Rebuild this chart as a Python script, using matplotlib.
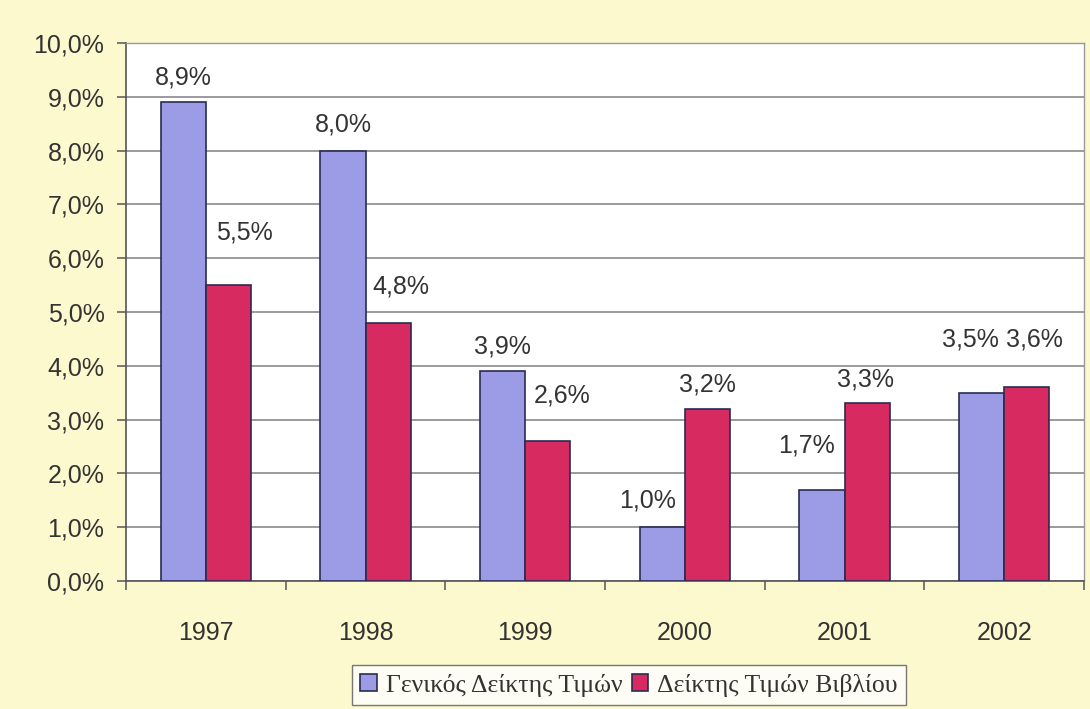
import numpy as np
import matplotlib.pyplot as plt

plt.rcParams["font.family"] = ["Liberation Sans", "DejaVu Sans"]

years = ["1997", "1998", "1999", "2000", "2001", "2002"]
general_cpi = [8.9, 8.0, 3.9, 1.0, 1.7, 3.5]
book_cpi = [5.5, 4.8, 2.6, 3.2, 3.3, 3.6]
series_names = ["Γενικός Δείκτης Τιμών", "Δείκτης Τιμών Βιβλίου"]

# label nudges in pixels (dx, dy above bar top), as placed in the original
general_offsets = [(0, 25), (0, 26), (0, 25), (-15, 27), (-15, 44), (-11, 53)]
book_offsets = [(16, 53), (13, 36), (14, 46), (0, 24), (-2, 24), (8, 48)]

bg = "#fcf9cf"
blue = "#9c9ce6"
red = "#d62a60"
edge = "#2b2b52"
txt = "#333333"

fig = plt.figure(figsize=(10.9, 7.09), dpi=100)
fig.patch.set_facecolor(bg)
ax = fig.add_axes([0.1156, 0.1805, 0.8789, 0.7589])
ax.set_facecolor("white")

x = np.arange(len(years))
w = 0.282
b1 = ax.bar(x - w / 2, general_cpi, w, color=blue, edgecolor=edge, linewidth=1.2,
            label=series_names[0], zorder=3)
b2 = ax.bar(x + w / 2, book_cpi, w, color=red, edgecolor=edge, linewidth=1.2,
            label=series_names[1], zorder=3)

for bars, vals, offs in [(b1, general_cpi, general_offsets), (b2, book_cpi, book_offsets)]:
    for r, v, (dx, dy) in zip(bars, vals, offs):
        ax.annotate(f"{v:.1f}%".replace(".", ","),
                    (r.get_x() + r.get_width() / 2, v),
                    xytext=(dx, dy), textcoords="offset pixels",
                    ha="center", va="center", fontsize=18, color=txt)

ax.set_ylim(0, 10)
ax.set_xlim(-0.5, len(years) - 0.5)
ax.set_yticks(np.arange(0, 11, 1))
ax.set_yticklabels([f"{v:.1f}%".replace(".", ",") for v in range(11)])
ax.yaxis.grid(True, color="#808080", linewidth=1.1, zorder=0)

ax.set_xticks(x)
ax.set_xticklabels(years)
ax.set_xticks(np.arange(-0.5, len(years), 1), minor=True)
ax.tick_params(axis="x", which="major", length=0, pad=29, labelsize=18, labelcolor=txt)
ax.tick_params(axis="x", which="minor", length=6.5, color="#555555", width=1.1)
ax.tick_params(axis="y", length=6.5, color="#555555", width=1.1, labelsize=18,
               labelcolor=txt, pad=9)

for s in ["top", "right"]:
    ax.spines[s].set_color("#9a9a9a")
    ax.spines[s].set_linewidth(1.0)
for s in ["left", "bottom"]:
    ax.spines[s].set_color("#555555")
    ax.spines[s].set_linewidth(1.2)

leg = fig.legend(loc="center", bbox_to_anchor=(0.5772, 0.0338), ncol=2,
                 prop={"family": ["Liberation Serif", "DejaVu Serif"], "size": 18.5},
                 frameon=True, fancybox=False, edgecolor="#555555",
                 handlelength=0.65, handleheight=0.65, handletextpad=0.35,
                 columnspacing=0.35, borderpad=0.32, borderaxespad=0)
leg.get_frame().set_facecolor("white")
leg.get_frame().set_linewidth(1.0)
for t in leg.get_texts():
    t.set_color(txt)

fig.savefig("out.png", dpi=100, facecolor=bg)
